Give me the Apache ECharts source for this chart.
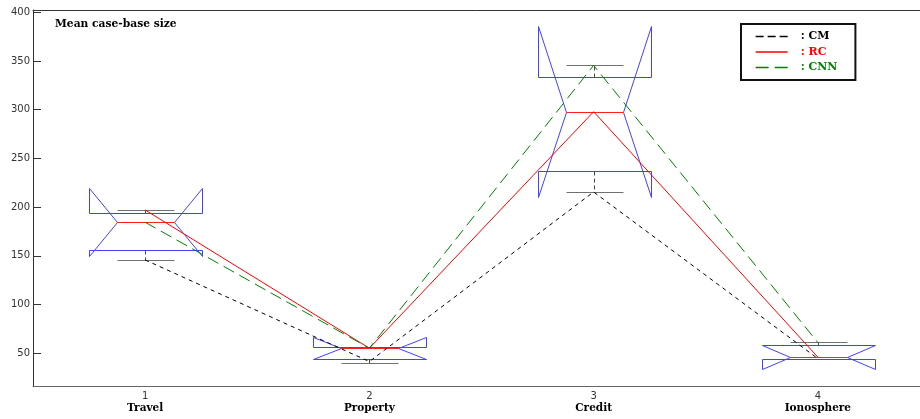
<!DOCTYPE html>
<html>
<head>
<meta charset="utf-8">
<script src="https://cdn.jsdelivr.net/npm/echarts@6/dist/echarts.min.js"></script>
<style>html,body{margin:0;padding:0;background:#fff}#c{width:920px;height:419px}</style>
</head>
<body>
<div id="c"></div>
<script>
// ---- data ----
const categories = ['Travel', 'Property', 'Credit', 'Ionosphere'];
const cmValues  = [145.8, 41.5, 215.6, 44.5];
const rcValues  = [197.1, 55.2, 298.0, 46.0];
const cnnValues = [184.5, 55.2, 345.6, 61.0];
// notched box statistics
const q1Values        = [155.7, 43.8, 237.6, 43.8];
const medianValues    = [184.5, 55.2, 298.0, 46.5];
const q3Values        = [194.3, 56.5, 333.3, 58.8];
const notchLowValues  = [149.9, 43.8, 210.7, 33.9];
const notchHighValues = [219.4, 67.0, 385.9, 58.8];
const whiskerLowValues  = [145.8, 39.7, 215.6, 43.8];
const whiskerHighValues = [197.1, 56.5, 345.6, 61.6];
const yTicks = [50, 100, 150, 200, 250, 300, 350, 400];

const boxData = categories.map((c, i) => [i, q1Values[i], medianValues[i], q3Values[i],
  notchLowValues[i], notchHighValues[i], whiskerLowValues[i], whiskerHighValues[i]]);

const px = v => Math.round(v) + 0.5;

function renderBox(params, api) {
  const idx = api.value(0);
  const band = api.size([1, 0])[0];
  const w = band * 0.25;
  const y = k => px(api.coord([idx, api.value(k)])[1]);
  const x = px(api.coord([idx, 0])[0]);
  const q1 = y(1), med = y(2), q3 = y(3), nlo = y(4), nhi = y(5), wlo = y(6), whi = y(7);
  const xl = px(x - w), xr = px(x + w), xil = px(x - w / 2), xir = px(x + w / 2);
  const whiskerStyle = { stroke: '#444', lineWidth: 1, lineDash: [4, 3], fill: null };
  const capStyle = { stroke: '#707070', lineWidth: 1, fill: null };
  return {
    type: 'group',
    children: [
      { type: 'line', shape: { x1: x, y1: q3, x2: x, y2: whi }, style: whiskerStyle },
      { type: 'line', shape: { x1: x, y1: q1, x2: x, y2: wlo }, style: whiskerStyle },
      { type: 'line', shape: { x1: xil, y1: whi, x2: xir, y2: whi }, style: capStyle },
      { type: 'line', shape: { x1: xil, y1: wlo, x2: xir, y2: wlo }, style: capStyle },
      { type: 'polygon', shape: { points: [
          [xl, q1], [xl, nlo], [xil, med], [xl, nhi], [xl, q3],
          [xr, q3], [xr, nhi], [xir, med], [xr, nlo], [xr, q1]] },
        style: { stroke: '#4141ff', lineWidth: 1, fill: null } },
      { type: 'line', shape: { x1: xil, y1: med, x2: xir, y2: med },
        style: { stroke: '#ff2020', lineWidth: 1, fill: null } }
    ]
  };
}

const chart = echarts.init(document.getElementById('c'), null, { renderer: 'canvas' });
chart.setOption({
  animation: false,
  backgroundColor: '#fff',
  title: {
    text: 'Mean case-base size', left: 55, top: 19, padding: 0,
    textStyle: { fontFamily: 'DejaVu Serif', fontWeight: 'bold', fontSize: 10.7, color: '#000' }
  },
  legend: {
    orient: 'vertical', left: 741, top: 24,
    padding: [7, 18, 7, 14], itemGap: 4.5, itemWidth: 32, itemHeight: 11,
    borderColor: '#111', borderWidth: 2, backgroundColor: '#fff',
    formatter: ': {name}',
    itemStyle: { opacity: 0, color: 'transparent', borderWidth: 0 },
    textStyle: { fontFamily: 'DejaVu Serif', fontWeight: 'bold', fontSize: 11, padding: [0, 0, 0, 8] },
    data: [
      { name: 'CM', textStyle: { color: '#000' }, lineStyle: { type: [8, 4], width: 1.3 } },
      { name: 'RC', textStyle: { color: '#ff0000' }, lineStyle: { width: 1.3 } },
      { name: 'CNN', textStyle: { color: '#008000' }, lineStyle: { type: [13, 6], width: 1.3 } }
    ]
  },
  grid: { left: 33, right: -10, top: 10, bottom: 33, outerBoundsMode: 'none', containLabel: false },
  xAxis: [{
    type: 'category', data: categories, boundaryGap: true,
    axisLine: { lineStyle: { color: '#666', width: 1 } },
    axisTick: { show: false },
    axisLabel: {
      margin: 4, interval: 0,
      formatter: (v, i) => '{n|' + (i + 1) + '}\n{c|' + v + '}',
      rich: {
        n: { fontFamily: 'DejaVu Sans', fontSize: 10, color: '#333', lineHeight: 12 },
        c: { fontFamily: 'DejaVu Serif', fontWeight: 'bold', fontSize: 10.5, color: '#000', lineHeight: 13 }
      }
    }
  }, {
    type: 'category', data: categories, position: 'top',
    axisLine: { lineStyle: { color: '#333', width: 1 } },
    axisTick: { show: false }, axisLabel: { show: false }
  }],
  yAxis: {
    type: 'value', min: 16.4, max: 402.4,
    splitLine: { show: false },
    axisLine: { show: true, lineStyle: { color: '#333', width: 1 } },
    axisTick: { show: true, inside: true, length: 8, customValues: yTicks, lineStyle: { color: '#333' } },
    axisLabel: { customValues: yTicks, margin: 3, fontFamily: 'DejaVu Sans', fontSize: 10, color: '#333' }
  },
  series: [
    { type: 'custom', name: 'box', data: boxData, renderItem: renderBox,
      encode: { x: 0, y: [1, 2, 3, 4, 5, 6, 7] }, z: 1, silent: true },
    { type: 'line', name: 'CM', data: cmValues, symbol: 'none', z: 3,
      itemStyle: { color: '#000' },
      lineStyle: { color: '#000', width: 1, type: [4, 4] } },
    { type: 'line', name: 'RC', data: rcValues, symbol: 'none', z: 3,
      itemStyle: { color: '#ff0000' },
      lineStyle: { color: '#ff0000', width: 1, type: 'solid' } },
    { type: 'line', name: 'CNN', data: cnnValues, symbol: 'none', z: 3,
      itemStyle: { color: '#008000' },
      lineStyle: { color: '#008000', width: 1, type: [12, 6] } }
  ]
});
</script>
</body>
</html>
